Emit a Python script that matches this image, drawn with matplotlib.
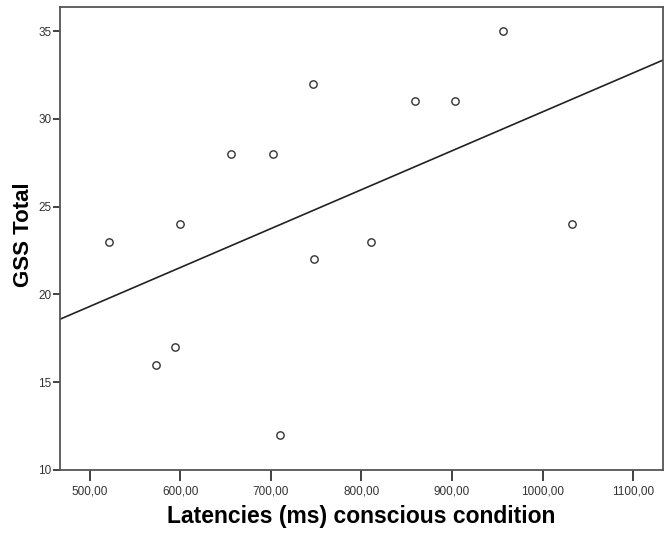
import numpy as np
import matplotlib
matplotlib.use("Agg")
import matplotlib.pyplot as plt
from matplotlib.ticker import FuncFormatter

# latency (ms) in the conscious condition vs GSS total
latency = [521, 573, 594, 600, 656, 702, 746, 747, 710, 810, 859, 903, 956, 1032]
gss_total = [23, 16, 17, 24, 28, 28, 32, 22, 12, 23, 31, 31, 35, 24]

x_ticks = [500, 600, 700, 800, 900, 1000, 1100]
y_ticks = [10, 15, 20, 25, 30, 35]

plt.rcParams["font.family"] = ["Liberation Sans", "DejaVu Sans"]

fig = plt.figure(figsize=(6.71, 5.33), dpi=100)
ax = fig.add_axes([60 / 671, 63 / 533, 603 / 671, 463 / 533])

xlim = (467, 1133)
ylim = (10, 36.37)

# linear fit line (drawn across the full x range)
slope, intercept = np.polyfit(latency, gss_total, 1)
xs = np.array(xlim)
ax.plot(xs, slope * xs + intercept, color="#222222", linewidth=1.2)

ax.scatter(latency, gss_total, s=28, facecolors="white", edgecolors="#333333",
           linewidths=1.0, zorder=3)

ax.set_xlim(*xlim)
ax.set_ylim(*ylim)
ax.set_xticks(x_ticks)
ax.set_yticks(y_ticks)
ax.xaxis.set_major_formatter(FuncFormatter(lambda v, p: f"{v:.2f}".replace(".", ",")))

for s in ax.spines.values():
    s.set_color("#555555")
    s.set_linewidth(1.3)

ax.tick_params(axis="x", direction="out", length=8, width=1.3, color="#333333",
               labelsize=8.5, labelcolor="#333333", pad=3)
ax.tick_params(axis="y", direction="out", length=5, width=1.3, color="#333333",
               labelsize=8.5, labelcolor="#333333", pad=1)

ax.set_xlabel("Latencies (ms) conscious condition", fontsize=16.5, fontweight="bold",
              va="center")
ax.xaxis.set_label_coords(0.5, (16 - 63) / 463)
ax.set_ylabel("GSS Total", fontsize=16, fontweight="bold", va="center")
ax.yaxis.set_label_coords((23.5 - 60) / 603, (298 - 63) / 463)

fig.savefig("out.png", dpi=100)
plt.close(fig)
